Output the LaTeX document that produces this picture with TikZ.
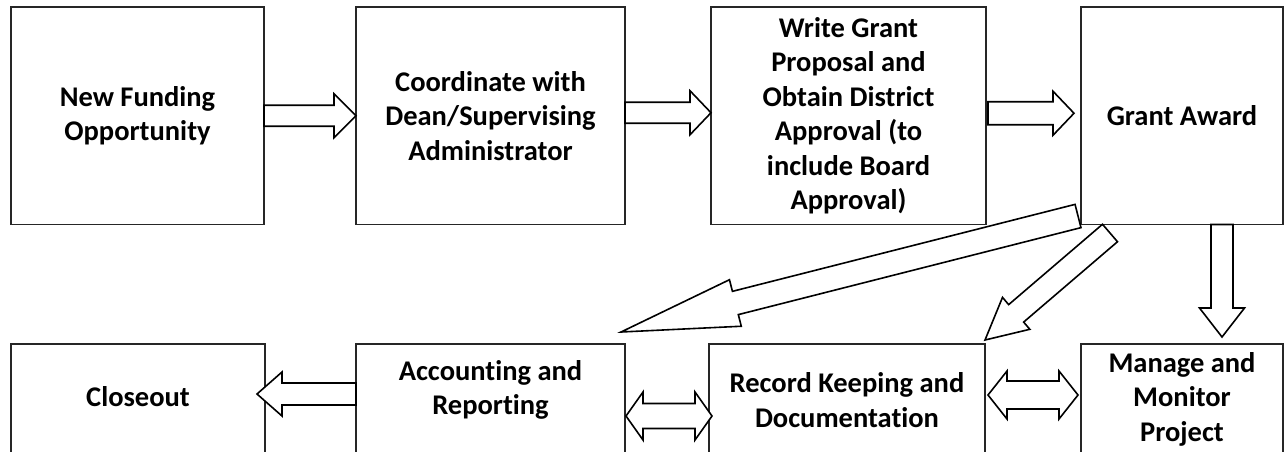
\documentclass[tikz,border=0pt]{standalone}
\usepackage{fontspec}
\setmainfont{Carlito}[Ligatures=NoCommon]
\usetikzlibrary{calc}

\newcommand{\boxfont}{\bfseries\fontsize{28.5}{34.5}\selectfont}

% outlined block arrow: tail, tip, half shaft, half head, head length
\newcommand{\blockarrow}[5]{%
  \coordinate (ba-t) at (#1);
  \coordinate (ba-h) at (#2);
  \coordinate (ba-b) at ($(ba-h)!#5!(ba-t)$);
  \draw[blk] ($(ba-t)!#3!90:(ba-h)$) -- ($(ba-b)!#3!90:(ba-h)$)
    -- ($(ba-b)!#4!90:(ba-h)$) -- (ba-h) -- ($(ba-b)!#4!-90:(ba-h)$)
    -- ($(ba-b)!#3!-90:(ba-h)$) -- ($(ba-t)!#3!-90:(ba-h)$) -- cycle;
}
% same with a head on both ends
\newcommand{\dblarrow}[5]{%
  \coordinate (da-a) at (#1);
  \coordinate (da-b) at (#2);
  \coordinate (da-p) at ($(da-a)!#5!(da-b)$);
  \coordinate (da-q) at ($(da-b)!#5!(da-a)$);
  \draw[blk] (da-a) -- ($(da-p)!#4!90:(da-b)$) -- ($(da-p)!#3!90:(da-b)$)
    -- ($(da-q)!#3!-90:(da-a)$) -- ($(da-q)!#4!-90:(da-a)$) -- (da-b)
    -- ($(da-q)!#4!90:(da-a)$) -- ($(da-q)!#3!90:(da-a)$)
    -- ($(da-p)!#3!-90:(da-b)$) -- ($(da-p)!#4!-90:(da-b)$) -- cycle;
}

\begin{document}
\begin{tikzpicture}[x=1pt, y=-1pt,
        box/.style={draw=black!85, line width=1.6pt, inner sep=0pt, outer sep=0pt, align=center, font=\boxfont},
        lbl/.style={align=center, font=\boxfont},
        blk/.style={draw=black, fill=white, line width=1.6pt, line join=miter}
    ]
    \clip (0,0) rectangle (1287,451);
    \fill[white] (0,0) rectangle (1287,451);

    \node[box, minimum width=253pt, minimum height=217.5pt] (fund) at (137.5,115.75) {New Funding\\Opportunity};
    \node[box, minimum width=269pt, minimum height=217.5pt] (dean) at (490.5,115.75) {Coordinate with\\Dean/Supervising\\Administrator};
    \node[box, minimum width=275pt, minimum height=217.5pt] (write) at (848.5,115.75) {Write Grant\\Proposal and\\Obtain District\\Approval (to\\include Board\\Approval)};
    \node[box, minimum width=202pt, minimum height=217.5pt] (award) at (1182,115.75) {Grant Award};

    \node[box, minimum width=254pt, minimum height=136pt] (close) at (138,412) {};
    \node[box, minimum width=269pt, minimum height=136pt] (acc) at (490.5,412) {};
    \node[box, minimum width=276pt, minimum height=136pt] (rec) at (847,412) {};
    \node[box, minimum width=202pt, minimum height=136pt] (mon) at (1182,412) {};
    \node[lbl] (closetxt) at (138,397) {Closeout};
    \node[lbl] (acctxt) at (490.5,390) {Accounting and\\Reporting};
    \node[lbl] (rectxt) at (847,400) {Record Keeping and\\Documentation};
    \node[lbl] (montxt) at (1182,399) {Manage and\\Monitor\\Project};

    \blockarrow{fund.east}{dean.west}{10.5pt}{22pt}{22pt}
    \blockarrow{[shift={(0,-3)}]dean.east}{[shift={(0,-3)}]write.west}{10.5pt}{22pt}{21pt}
    \blockarrow{[shift={(2,-2.5)}]write.east}{[shift={(-7,-2.5)}]award.west}{11.5pt}{22pt}{21pt}
    \blockarrow{[shift={(40,0)}]award.south}{[shift={(40,-7)}]mon.north}{11pt}{22.5pt}{29pt}
    \blockarrow{[shift={(-3,-8.5)}]award.south west}{[shift={(-4,-12)}]acc.north east}{12pt}{24pt}{118pt}
    \blockarrow{[shift={(29,8.5)}]award.south west}{[shift={(0,-4)}]rec.north east}{11.5pt}{21pt}{41pt}
    \blockarrow{[shift={(0,-18)}]acc.west}{[shift={(-8,-18)}]close.east}{11pt}{22pt}{25pt}
    \dblarrow{[shift={(1,4)}]acc.east}{[shift={(3,4)}]rec.west}{12.5pt}{24pt}{17pt}
    \dblarrow{[shift={(3,-17)}]rec.east}{[shift={(-3,-17)}]mon.west}{14pt}{24pt}{19pt}
\end{tikzpicture}
\end{document}
